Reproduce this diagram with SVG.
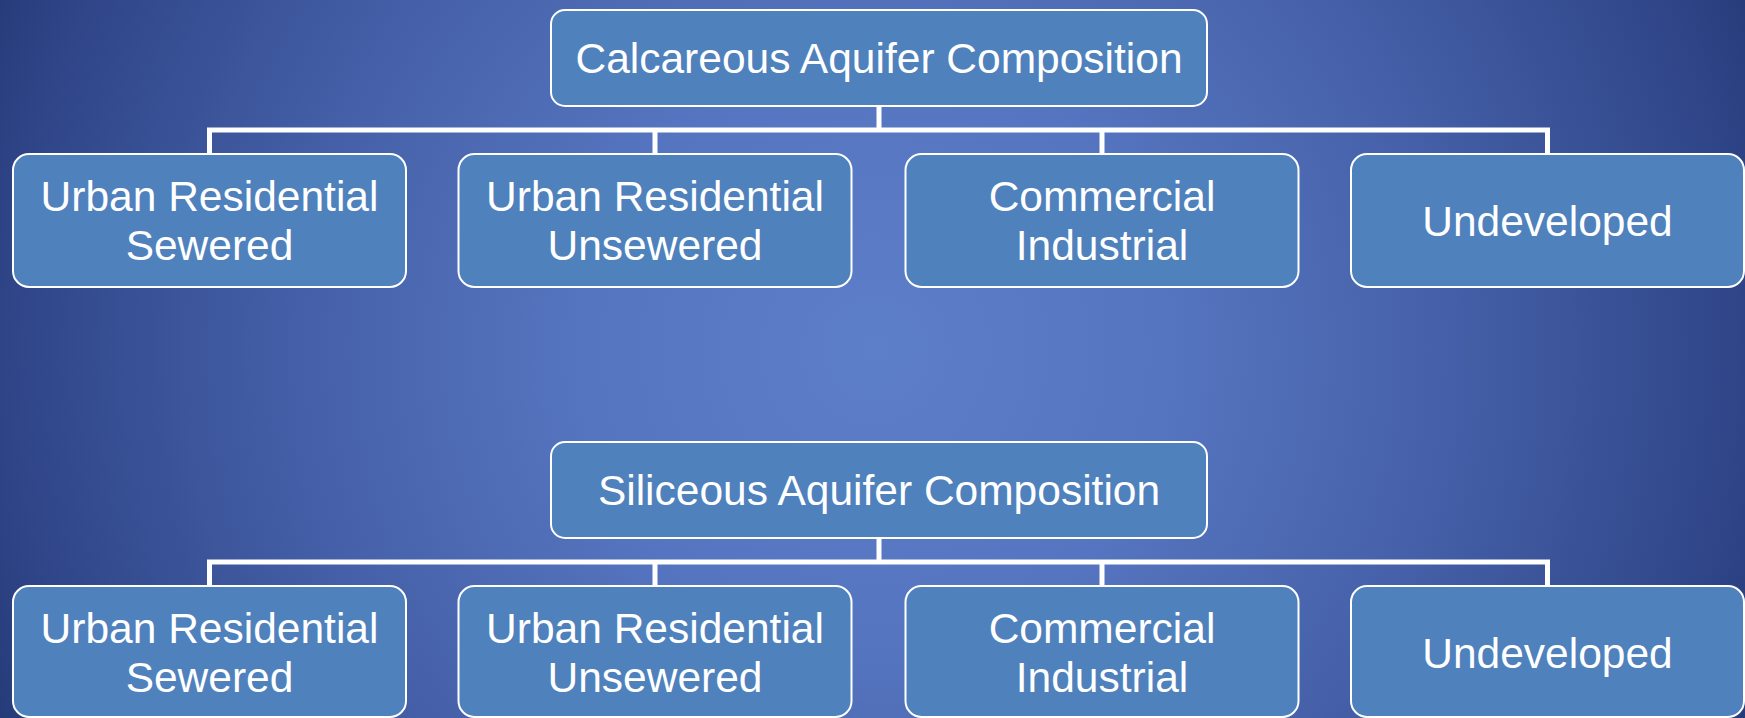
<svg xmlns="http://www.w3.org/2000/svg" width="1745" height="718" viewBox="0 0 1745 718">
<defs>
<radialGradient id="bg" gradientUnits="userSpaceOnUse" cx="875" cy="350" r="960">
<stop offset="0" stop-color="#5d7ec9"/>
<stop offset="0.3" stop-color="#5675c0"/>
<stop offset="0.6" stop-color="#4560a8"/>
<stop offset="0.9" stop-color="#2f4588"/>
<stop offset="1" stop-color="#253a77"/>
</radialGradient>
<style>
.box{fill:#4f81bd;stroke:#ffffff;stroke-width:2}
.lbl{font-family:"Liberation Sans",Arial,sans-serif;font-size:42.5px;fill:#ffffff;text-anchor:middle}
.conn{fill:none;stroke:#ffffff;stroke-width:5}
</style>
</defs>
<rect width="1745" height="718" fill="url(#bg)"/>
<g id="connectors">
<path class="conn" d="M879 106V130M209.5 154V130H1547.5V154M655 130V154M1102 130V154"/>
<path class="conn" d="M879 538V562M209.5 586V562H1547.5V586M655 562V586M1102 562V586"/>
</g>
<g id="calcareous">
<rect class="box" x="551" y="10" width="656" height="96" rx="14"/>
<text class="lbl" x="879" y="73">Calcareous Aquifer Composition</text>
</g>
<g id="c-urs">
<rect class="box" x="13" y="154" width="393" height="133" rx="16"/>
<text class="lbl" x="209.5" y="211">Urban Residential</text>
<text class="lbl" x="209.5" y="260">Sewered</text>
</g>
<g id="c-uru">
<rect class="box" x="458.5" y="154" width="393" height="133" rx="16"/>
<text class="lbl" x="655" y="211">Urban Residential</text>
<text class="lbl" x="655" y="260">Unsewered</text>
</g>
<g id="c-ci">
<rect class="box" x="905.5" y="154" width="393" height="133" rx="16"/>
<text class="lbl" x="1102" y="211">Commercial</text>
<text class="lbl" x="1102" y="260">Industrial</text>
</g>
<g id="c-und">
<rect class="box" x="1351" y="154" width="393" height="133" rx="16"/>
<text class="lbl" x="1547.5" y="236">Undeveloped</text>
</g>
<g id="siliceous">
<rect class="box" x="551" y="442" width="656" height="96" rx="14"/>
<text class="lbl" x="879" y="505">Siliceous Aquifer Composition</text>
</g>
<g id="s-urs">
<rect class="box" x="13" y="586" width="393" height="131" rx="16"/>
<text class="lbl" x="209.5" y="643">Urban Residential</text>
<text class="lbl" x="209.5" y="692">Sewered</text>
</g>
<g id="s-uru">
<rect class="box" x="458.5" y="586" width="393" height="131" rx="16"/>
<text class="lbl" x="655" y="643">Urban Residential</text>
<text class="lbl" x="655" y="692">Unsewered</text>
</g>
<g id="s-ci">
<rect class="box" x="905.5" y="586" width="393" height="131" rx="16"/>
<text class="lbl" x="1102" y="643">Commercial</text>
<text class="lbl" x="1102" y="692">Industrial</text>
</g>
<g id="s-und">
<rect class="box" x="1351" y="586" width="393" height="131" rx="16"/>
<text class="lbl" x="1547.5" y="668">Undeveloped</text>
</g>
</svg>
